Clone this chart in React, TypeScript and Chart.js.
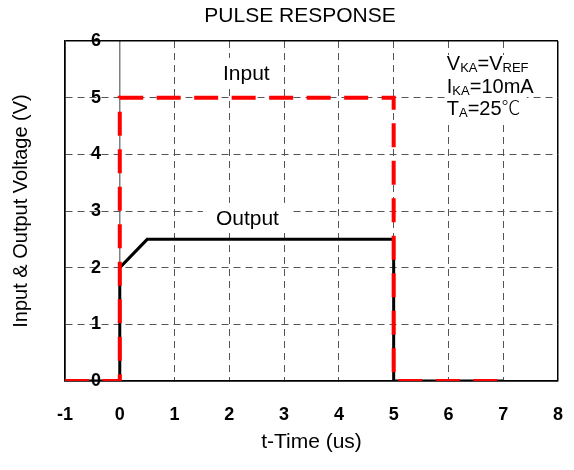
import React, { useEffect, useRef } from 'react';
import { Chart, registerables } from 'chart.js';

Chart.register(...registerables);

const TITLE = 'PULSE RESPONSE';
const X_TITLE = 't-Time (us)';
const Y_TITLE = 'Input & Output Voltage (V)';

const inputTime = [-1, 0, 0, 5, 5, 7];
const inputVolt = [0, 0, 5, 5, 0, 0];
const outputTime = [-1, 0, 0, 0.5, 5, 5, 7];
const outputVolt = [0, 0, 2, 2.5, 2.5, 0, 0];

const xTicks = [-1, 0, 1, 2, 3, 4, 5, 6, 7, 8];
const yTicks = [0, 1, 2, 3, 4, 5, 6];

const seriesLabels = ['Input', 'Output'];
const seriesLabelX = [2.31, 2.33];
const seriesLabelY = [5.42, 2.86];

type Seg = { t: string; sub?: boolean; cjk?: boolean };
const conditionLines: Seg[][] = [
  [{ t: 'V' }, { t: 'KA', sub: true }, { t: '=V' }, { t: 'REF', sub: true }],
  [{ t: 'I' }, { t: 'KA', sub: true }, { t: '=10mA' }],
  [{ t: 'T' }, { t: 'A', sub: true }, { t: '=25' }, { t: '℃', cjk: true }],
];
const conditionX = 5.97;
const conditionY = [5.488, 5.082, 4.694];

const FAMILY = "'Liberation Sans', Arial, sans-serif";

const labelPlugin = {
  id: 'pulseLabels',
  afterDatasetsDraw(chart: any) {
    const { ctx, scales } = chart;
    const x = scales.x;
    const y = scales.y;
    ctx.save();
    ctx.font = `21px ${FAMILY}`;
    ctx.textAlign = 'center';
    ctx.textBaseline = 'middle';
    seriesLabels.forEach((txt, i) => {
      const px = x.getPixelForValue(seriesLabelX[i]);
      const py = y.getPixelForValue(seriesLabelY[i]);
      const w = ctx.measureText(txt).width;
      ctx.fillStyle = '#ffffff';
      ctx.fillRect(px - w / 2 - 13, py - 16, w + 26, 27);
      ctx.fillStyle = '#000000';
      ctx.fillText(txt, px, py);
    });

    // conditions box
    const bx = x.getPixelForValue(conditionX);
    const by0 = y.getPixelForValue(conditionY[0]);
    const by2 = y.getPixelForValue(conditionY[2]);
    ctx.fillStyle = '#ffffff';
    ctx.fillRect(bx - 1, by0 - 15, 81, by2 - by0 + 20);
    ctx.fillStyle = '#000000';
    ctx.textAlign = 'left';
    ctx.textBaseline = 'alphabetic';
    conditionLines.forEach((segs, i) => {
      let px = bx;
      const py = y.getPixelForValue(conditionY[i]);
      segs.forEach((s) => {
        if (s.sub) ctx.font = `13px ${FAMILY}`;
        else if (s.cjk) ctx.font = `300 19px 'Noto Sans CJK SC', 'DejaVu Sans', sans-serif`;
        else ctx.font = `20px ${FAMILY}`;
        ctx.fillText(s.t, px, py + (s.sub ? 2 : 0));
        px += ctx.measureText(s.t).width;
      });
    });
    ctx.restore();
  },
};

const xGridColor = (v: number) => (v === -1 || v === 8 ? '#000000' : v === 0 ? '#808080' : '#555555');
const yGridColor = (v: number) => (v === 0 || v === 6 ? '#000000' : '#555555');

export default function App() {
  const ref = useRef<HTMLCanvasElement | null>(null);

  useEffect(() => {
    if (!ref.current) return;
    const chart = new Chart(ref.current, {
      type: 'line',
      data: {
        datasets: [
          {
            label: 'Input',
            data: inputTime.map((t, i) => ({ x: t, y: inputVolt[i] })),
            borderColor: '#ff0000',
            borderWidth: 4,
            borderDash: [24, 13.5],
            borderCapStyle: 'butt',
            borderJoinStyle: 'miter',
            pointRadius: 0,
            tension: 0,
            fill: false,
          },
          {
            label: 'Output',
            data: outputTime.map((t, i) => ({ x: t, y: outputVolt[i] })),
            borderColor: '#000000',
            borderWidth: 3,
            borderJoinStyle: 'miter',
            pointRadius: 0,
            tension: 0,
            fill: false,
          },
        ],
      },
      options: {
        animation: false,
        responsive: false,
        devicePixelRatio: 1,
        layout: { padding: { left: 42, right: 16, top: 0, bottom: 0 } },
        plugins: {
          legend: { display: false },
          tooltip: { enabled: false },
          title: {
            display: true,
            text: TITLE,
            color: '#000000',
            font: { family: FAMILY, size: 21, weight: 'normal' },
            padding: { top: 4, bottom: 11.8 },
          },
        },
        scales: {
          x: {
            type: 'linear',
            min: -1,
            max: 8,
            afterBuildTicks: (scale: any) => {
              scale.ticks = xTicks.map((v) => ({ value: v }));
            },
            afterFit: (scale: any) => {
              scale.height = 89;
            },
            grid: {
              drawTicks: true,
              tickLength: 23,
              tickColor: 'rgba(0,0,0,0)',
              color: (c: any) => xGridColor(c.tick ? c.tick.value : 0),
              lineWidth: (c: any) => (c.tick && (c.tick.value === -1 || c.tick.value === 8) ? 1.5 : c.tick && c.tick.value === 0 ? 1.5 : 1),
            },
            border: {
              display: true,
              color: '#000000',
              width: 1.5,
              dash: (c: any) => (c.tick && (c.tick.value === -1 || c.tick.value === 0 || c.tick.value === 8) ? [] : [7, 5]),
            },
            ticks: {
              color: '#000000',
              padding: 0,
              font: { family: FAMILY, size: 18, weight: 'bold' },
              callback: (v: any) => String(v),
            },
            title: {
              display: true,
              text: X_TITLE,
              color: '#000000',
              font: { family: FAMILY, size: 21, weight: 'normal' },
              padding: { top: 0, bottom: 15.4 },
            },
          },
          y: {
            type: 'linear',
            min: 0,
            max: 6,
            afterBuildTicks: (scale: any) => {
              scale.ticks = yTicks.map((v) => ({ value: v }));
            },
            afterFit: (scale: any) => {
              scale.width = 23;
            },
            grid: {
              drawTicks: false,
              color: (c: any) => yGridColor(c.tick ? c.tick.value : 0),
              lineWidth: (c: any) => (c.tick && (c.tick.value === 0 || c.tick.value === 6) ? 1.5 : 1),
            },
            border: {
              display: true,
              color: '#000000',
              width: 1.5,
              dash: (c: any) => (c.tick && (c.tick.value === 0 || c.tick.value === 6) ? [] : [7, 5]),
            },
            ticks: {
              mirror: true,
              padding: 26,
              color: '#000000',
              font: { family: FAMILY, size: 18, weight: 'bold' },
              callback: (v: any) => String(v),
            },
            title: {
              display: true,
              text: Y_TITLE,
              color: '#000000',
              font: { family: FAMILY, size: 20, weight: 'normal' },
              padding: { top: -32.5, bottom: 0 },
            },
          },
        },
      },
      plugins: [labelPlugin],
    } as any);
    return () => chart.destroy();
  }, []);

  return (
    <div style={{ position: 'fixed', left: 0, top: 0, width: 574, height: 470, background: '#ffffff' }}>
      <canvas ref={ref} width={574} height={470} style={{ width: 574, height: 470, display: 'block' }} />
    </div>
  );
}
